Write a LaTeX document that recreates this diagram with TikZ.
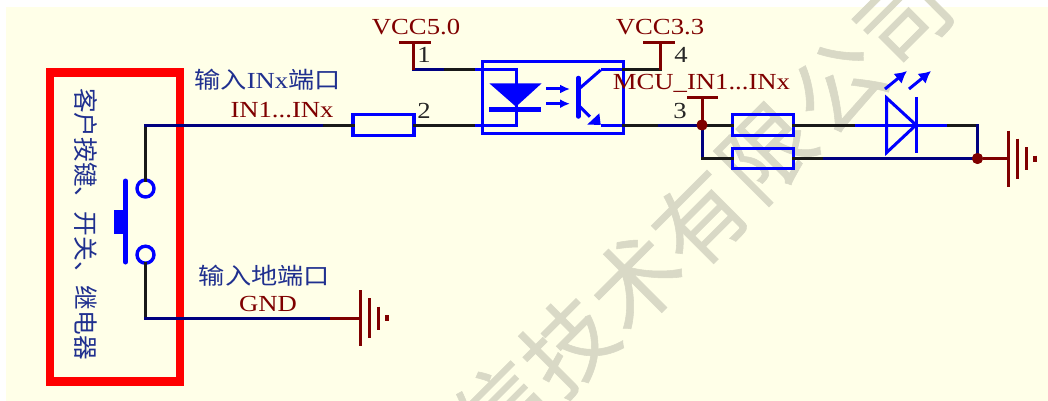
\documentclass[tikz,border=0pt]{standalone}
\usepackage{fontspec}
\setmainfont[FakeStretch=1.16]{Liberation Serif}
\newfontfamily\zhfont{Noto Sans CJK SC}
\newfontfamily\zhwide[FakeStretch=1.14]{Noto Sans CJK SC}
\newfontfamily\markfont[FakeBold=0.6]{Noto Sans CJK SC}
\usetikzlibrary{arrows.meta}
\definecolor{paper}{HTML}{FFFFE8}
\definecolor{mark}{HTML}{D9D9C6}
\definecolor{partblue}{HTML}{0000FF}
\definecolor{netnavy}{HTML}{000080}
\definecolor{pinred}{HTML}{7F0000}
\definecolor{zhblue}{HTML}{20308F}
\tikzset{
    blackwire/.style={line width=3pt, black!90, line cap=rect},
    navywire/.style={line width=3pt, netnavy, line cap=rect},
    redwire/.style={line width=3pt, pinred},
    bluewire/.style={line width=3pt, partblue},
    res/.style={draw=partblue, line width=3.2pt, minimum width=61, minimum height=20.5, inner sep=0pt, outer sep=0pt},
    contact/.style={circle, draw=partblue, line width=3.4pt, minimum size=17, inner sep=0pt, outer sep=0pt},
    netlabel/.style={text=pinred, font=\fontsize{23}{23}\selectfont, inner sep=0pt},
    pinlabel/.style={text=black!85, font=\fontsize{23}{23}\selectfont, inner sep=0pt},
    zhlabel/.style={text=zhblue, font=\zhwide\fontsize{23}{23}\selectfont, inner sep=0pt},
    dot/.style={circle, fill=pinred, minimum size=11, inner sep=0pt, outer sep=0pt},
    wmark/.style={text=mark, font=\markfont\fontsize{90}{90}\selectfont, rotate=45, inner sep=0pt}
}
\begin{document}
\begin{tikzpicture}[x=1pt, y=-1pt]
    \useasboundingbox (0,0) rectangle (1048,401);
    \clip (0,0) rectangle (1048,401);
    \fill[paper] (6,7) rectangle (1048,401);
    % Watermark
    \foreach \ch/\x/\y in {信/501/408, 技/568/345, 术/635/281, 有/700/219, 限/767/153, 公/838/86, 司/905/20} {
        \node[wmark] at (\x,\y) {\ch};
    }
    % Customer box
    \draw[red, line width=8.5pt] (50,72.7) rectangle (180,381.5);
    \node[zhlabel, rotate=-90, font=\zhfont\fontsize{24.7}{24.7}\selectfont] (custlabel) at (86,224) {客户按键、开关、继电器};
    % Switch
    \node[contact] (sw1) at (145.5,188.5) {};
    \node[contact] (sw2) at (145.5,254.7) {};
    \draw[line width=5pt, partblue, line cap=round] (125.5,181) -- (125.5,262);
    \fill[partblue] (114,210) rectangle (125.5,234);
    % Parts
    \node[res] (r1) at (383.5,125) {};
    \node[res] (r2) at (763,125) {};
    \node[res] (r3) at (763,158.5) {};
    \node[draw=partblue, line width=3pt, minimum width=141, minimum height=71.5, inner sep=0pt, outer sep=0pt] (opto) at (552.5,97.5) {};
    % Net points
    \coordinate (inbend) at (145.5,125);
    \coordinate (gndbend) at (145.5,318);
    \coordinate (insplit) at (324,125);
    \coordinate (gndsplit) at (330,318);
    \coordinate (gnda) at (360,318);
    \coordinate (vcca) at (413,70);
    \coordinate (vccb) at (660,70);
    \coordinate (vcctopa) at (413,43);
    \coordinate (vcctopb) at (660,43);
    \coordinate (topa) at (445,70);
    \coordinate (mida) at (475,70);
    \coordinate (midb) at (475,125);
    \coordinate (anode) at (516,70);
    \coordinate (cathode) at (516,125);
    \coordinate (colt) at (600.7,70);
    \coordinate (emit) at (600.7,125);
    \coordinate (pina) at (659,125);
    \coordinate (outbend) at (702,158.5);
    \coordinate (pin3) at (702,98);
    \coordinate (lowsplit) at (824,158.5);
    \coordinate (ledin) at (855,125);
    \coordinate (ledout) at (948,125);
    \coordinate (rightbend) at (977.5,125);
    \coordinate (gndb) at (1008,158.5);
    \node[dot] (outdot) at (702,125) {};
    \node[dot] (gnddot) at (977.5,158.5) {};
    % Wires
    \draw[blackwire] (sw1.north) -- (inbend);
    \draw[blackwire] (sw2.south) -- (gndbend);
    \draw[navywire] (inbend) -- (insplit);
    \draw[blackwire] (insplit) -- (r1.west);
    \draw[navywire] (gndbend) -- (gndsplit);
    \draw[redwire] (gndsplit) -- (gnda);
    \draw[navywire] (vcca) -- (topa);
    \draw[redwire] (vcctopa) -- (vcca);
    \draw[blackwire] (topa) -- (mida);
    \draw[blackwire] (r1.east) -- (midb);
    \draw[bluewire] (mida) -- (anode) -- (cathode) -- (midb);
    \draw[bluewire] (colt) -- (opto.north east |- colt);
    \draw[blackwire] (opto.north east |- colt) -- (vccb);
    \draw[redwire] (vcctopb) -- (vccb);
    \draw[bluewire] (emit) -- (opto.south east |- emit);
    \draw[blackwire] (opto.south east |- emit) -- (pina);
    \draw[navywire] (pina) -- (outdot);
    \draw[navywire] (outdot) -- (outbend);
    \draw[blackwire] (outbend) -- (r3.west);
    \draw[blackwire] (outdot) -- (r2.west);
    \draw[redwire] (pin3) -- (outdot);
    \draw[blackwire] (r3.east) -- (lowsplit);
    \draw[navywire] (lowsplit) -- (gnddot);
    \draw[blackwire] (r2.east) -- (ledin);
    \draw[bluewire] (ledin) -- (ledout);
    \draw[blackwire] (ledout) -- (rightbend);
    \draw[navywire] (rightbend) -- (gnddot);
    \draw[redwire] (gnddot) -- (gndb);
    \node[dot] at (outdot) {};
    \node[dot] at (gnddot) {};
    % Pin bars
    \draw[line width=3pt, pinred] (399,42.5) -- (431,42.5);
    \draw[line width=3pt, pinred] (643,42.5) -- (675,42.5);
    \draw[line width=3pt, pinred] (687,98) -- (718,98);
    % Ground symbols
    \foreach \gx/\gy in {360/318, 1008/158.5} {
        \draw[line width=3pt, pinred] (\gx,\gy-28) -- (\gx,\gy+28);
        \draw[line width=3pt, pinred] (\gx+9,\gy-20) -- (\gx+9,\gy+20);
        \draw[line width=3pt, pinred] (\gx+18,\gy-11.5) -- (\gx+18,\gy+11.5);
        \draw[line width=3.4pt, pinred] (\gx+27,\gy-3) -- (\gx+27,\gy+3);
    }
    % Opto diode
    \fill[partblue] (489.3,83.3) -- (541.7,83.3) -- (516,106.7) -- cycle;
    \draw[line width=5pt, partblue] (489,109.3) -- (540.7,109.3);
    \foreach \ay in {89, 103.7} {
        \draw[line width=3pt, partblue, -{Latex[length=10pt,width=9pt]}] (546,\ay) -- (570,\ay);
    }
    % Opto transistor
    \draw[line width=4.5pt, partblue, line cap=round] (578.3,78) -- (578.3,116.5);
    \draw[bluewire] (580,88) -- (colt);
    \draw[bluewire] (580,106.7) -- (590,116.7);
    \fill[partblue] (587.3,124.5) -- (599.3,113.3) -- (600.7,125) -- cycle;
    % LED
    \draw[line width=3pt, partblue] (886.7,98) -- (886.7,152.5) -- (916,125) -- cycle;
    \draw[line width=3pt, partblue] (916.7,97) -- (916.7,153);
    \foreach \ax in {885, 909} {
        \draw[line width=3pt, partblue, -{Latex[length=12pt,width=13pt]}] (\ax,89) -- (\ax+22,71);
    }
    % Labels
    \node[netlabel] (vccfive) at (416,27) {VCC5.0};
    \node[netlabel] (vccthree) at (660,27) {VCC3.3};
    \node[netlabel] (mculabel) at (701.5,83) {MCU\_IN1...INx};
    \node[netlabel] (inlabel) at (282,110) {IN1...INx};
    \node[netlabel] (gndlabel) at (268,304) {GND};
    \node[pinlabel] (pinone) at (424,55) {1};
    \node[pinlabel] (pintwo) at (424,111) {2};
    \node[pinlabel] (pinthree) at (680,111) {3};
    \node[pinlabel] (pinfour) at (681,55) {4};
    \node[zhlabel] (inport) at (267.5,80) {输入{\rmfamily INx}端口};
    \node[zhlabel] (gndport) at (264.5,276) {输入地端口};
\end{tikzpicture}
\end{document}
